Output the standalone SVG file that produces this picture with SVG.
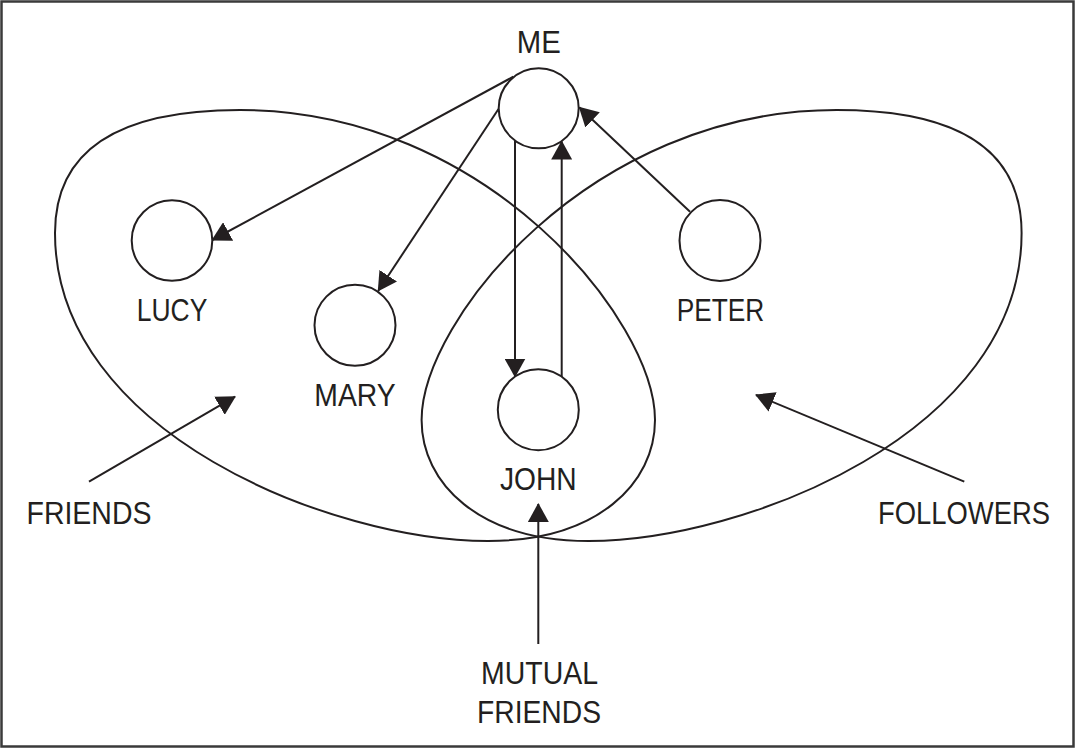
<svg xmlns="http://www.w3.org/2000/svg" width="1075" height="749" viewBox="0 0 1075 749">
<style>
.frame{fill:#fff;stroke:#3a3a3a;stroke-width:2.5}
.set{fill:none;stroke:#231f20;stroke-width:2}
.node{fill:#fff;stroke:#231f20;stroke-width:2}
.edge{fill:none;stroke:#231f20;stroke-width:2;marker-end:url(#ah)}
.lbl{font-family:"Liberation Sans",Arial,sans-serif;font-size:31px;fill:#231f20;text-anchor:middle}
</style>
<defs>
<marker id="ah" markerUnits="userSpaceOnUse" viewBox="0 0 19 21" markerWidth="19" markerHeight="21" refX="18" refY="10.5" orient="auto">
<path d="M0,0 L19,10.5 L0,21 Z" fill="#231f20"/>
</marker>
</defs>
<rect class="frame" x="1.5" y="1.5" width="1072" height="745"/>
<g id="friends-set">
<path class="set" d="M240,110 C487,110 655,321 655,420 C655,483 598,541 488,541 C333,541 55,433 55,233 C55,163 100,110 240,110 Z"/>
<text class="lbl" x="89" y="524" textLength="125" lengthAdjust="spacingAndGlyphs">FRIENDS</text>
</g>
<g id="followers-set">
<path class="set" transform="matrix(-1,0,0,1,1076.6,0)" d="M240,110 C487,110 655,321 655,420 C655,483 598,541 488,541 C333,541 55,433 55,233 C55,163 100,110 240,110 Z"/>
<text class="lbl" x="964" y="524" textLength="172" lengthAdjust="spacingAndGlyphs">FOLLOWERS</text>
</g>
<g id="mutual-friends">
<text class="lbl" x="539.5" y="684" textLength="117" lengthAdjust="spacingAndGlyphs">MUTUAL</text>
<text class="lbl" x="539" y="723.3" textLength="124" lengthAdjust="spacingAndGlyphs">FRIENDS</text>
</g>
<g id="connectors">
<line class="edge" x1="513.3" y1="76.7" x2="212.3" y2="240"/>
<line class="edge" x1="498.5" y1="109" x2="378.3" y2="290.7"/>
<line class="edge" x1="515" y1="140.5" x2="515" y2="376.5"/>
<line class="edge" x1="561.7" y1="377" x2="561.7" y2="141.5"/>
<line class="edge" x1="690" y1="211.7" x2="579.5" y2="107.5"/>
<line class="edge" x1="89" y1="481.7" x2="235" y2="396.7"/>
<line class="edge" x1="964.3" y1="481.7" x2="756" y2="395"/>
<line class="edge" x1="538.3" y1="644" x2="538.3" y2="504"/>
</g>
<g id="me">
<circle class="node" cx="538.7" cy="108.3" r="40"/>
<text class="lbl" x="538.8" y="52.7" textLength="44" lengthAdjust="spacingAndGlyphs">ME</text>
</g>
<g id="lucy">
<circle class="node" cx="172" cy="240.5" r="40.3"/>
<text class="lbl" x="172" y="320.7" textLength="70.6" lengthAdjust="spacingAndGlyphs">LUCY</text>
</g>
<g id="mary">
<circle class="node" cx="355" cy="325.3" r="40.5"/>
<text class="lbl" x="355" y="405.7" textLength="81.4" lengthAdjust="spacingAndGlyphs">MARY</text>
</g>
<g id="john">
<circle class="node" cx="538.3" cy="409.7" r="40.5"/>
<text class="lbl" x="538.3" y="490" textLength="76.7" lengthAdjust="spacingAndGlyphs">JOHN</text>
</g>
<g id="peter">
<circle class="node" cx="720" cy="240.5" r="40.5"/>
<text class="lbl" x="720.5" y="320.7" textLength="87.6" lengthAdjust="spacingAndGlyphs">PETER</text>
</g>
</svg>
